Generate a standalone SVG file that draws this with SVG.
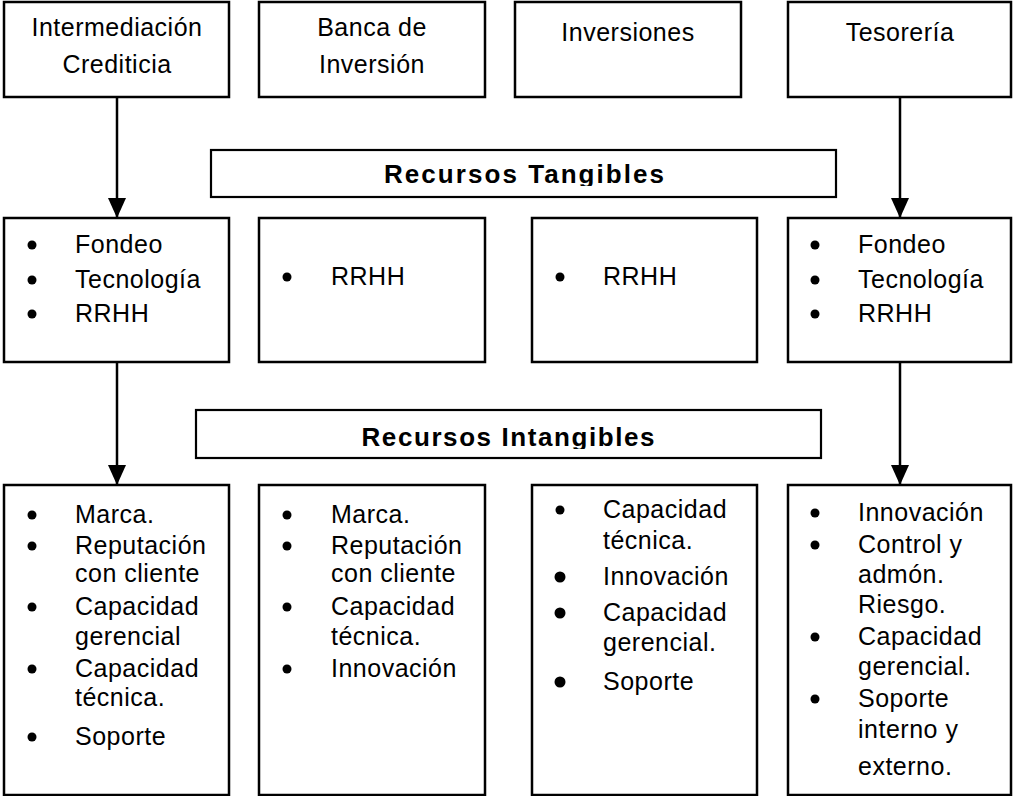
<svg xmlns="http://www.w3.org/2000/svg" width="1013" height="796" viewBox="0 0 1013 796">
  <style>
    .box { fill: #ffffff; stroke: #000000; stroke-width: 2.5; }
    .band { fill: #ffffff; stroke: #000000; stroke-width: 2.2; }
    .t { font-family: "Liberation Sans", Arial, sans-serif; font-size: 25px; letter-spacing: 0.5px; fill: #000000; }
    .c { text-anchor: middle; }
    .dot { fill: #000000; }
    .h { font-family: "Liberation Sans", Arial, sans-serif; font-size: 26px; font-weight: bold; fill: #000000; text-anchor: middle; }
    .wire { stroke: #000000; stroke-width: 2.5; fill: none; }
  </style>
  <defs>
    <marker id="head" viewBox="0 0 20 18" refX="20" refY="9" markerWidth="20" markerHeight="18" markerUnits="userSpaceOnUse" orient="auto">
      <path d="M0,0 L20,9 L0,18 Z" fill="#000000"/>
    </marker>
    <clipPath id="clipTang"><rect x="211" y="150" width="625" height="36"/></clipPath>
    <clipPath id="clipIntang"><rect x="196" y="410" width="625" height="39"/></clipPath>
  </defs>
  <rect width="1013" height="796" fill="#ffffff"/>

  <!-- business lines -->
  <g id="intermediacion">
    <rect class="box" x="4" y="2" width="225" height="95"/>
    <text class="t c" x="117" y="36">Intermediación</text>
    <text class="t c" x="117" y="73">Crediticia</text>
  </g>
  <g id="banca">
    <rect class="box" x="259" y="2" width="226" height="95"/>
    <text class="t c" x="372" y="36">Banca de</text>
    <text class="t c" x="372" y="73">Inversión</text>
  </g>
  <g id="inversiones">
    <rect class="box" x="515" y="2" width="226" height="95"/>
    <text class="t c" x="628" y="41">Inversiones</text>
  </g>
  <g id="tesoreria">
    <rect class="box" x="788" y="2" width="223" height="95"/>
    <text class="t c" x="900" y="41">Tesorería</text>
  </g>

  <!-- section bands -->
  <g id="tangibles">
    <rect class="band" x="211" y="150" width="625" height="47"/>
    <text class="h" x="524" y="183" textLength="280" lengthAdjust="spacing" clip-path="url(#clipTang)">Recursos Tangibles</text>
  </g>
  <g id="intangibles">
    <rect class="band" x="196" y="410" width="625" height="48"/>
    <text class="h" x="508" y="446" textLength="293" lengthAdjust="spacing" clip-path="url(#clipIntang)">Recursos Intangibles</text>
  </g>

  <!-- tangible resources -->
  <g id="tang-intermediacion">
    <rect class="box" x="4" y="218" width="225" height="144"/>
    <circle class="dot" cx="32" cy="245" r="4.5"/><text class="t" x="75" y="253">Fondeo</text>
    <circle class="dot" cx="32" cy="280" r="4.5"/><text class="t" x="75" y="288">Tecnología</text>
    <circle class="dot" cx="32" cy="314" r="4.5"/><text class="t" x="75" y="322">RRHH</text>
  </g>
  <g id="tang-banca">
    <rect class="box" x="259" y="218" width="226" height="144"/>
    <circle class="dot" cx="287" cy="277" r="4.5"/><text class="t" x="331" y="285">RRHH</text>
  </g>
  <g id="tang-inversiones">
    <rect class="box" x="532" y="218" width="225" height="144"/>
    <circle class="dot" cx="560" cy="277" r="4.5"/><text class="t" x="603" y="285">RRHH</text>
  </g>
  <g id="tang-tesoreria">
    <rect class="box" x="788" y="218" width="223" height="144"/>
    <circle class="dot" cx="815" cy="245" r="4.5"/><text class="t" x="858" y="253">Fondeo</text>
    <circle class="dot" cx="815" cy="280" r="4.5"/><text class="t" x="858" y="288">Tecnología</text>
    <circle class="dot" cx="815" cy="314" r="4.5"/><text class="t" x="858" y="322">RRHH</text>
  </g>

  <!-- intangible resources -->
  <g id="intang-intermediacion">
    <rect class="box" x="4" y="485" width="225" height="310"/>
    <circle class="dot" cx="32" cy="515" r="4.5"/><text class="t" x="75" y="523">Marca.</text>
    <circle class="dot" cx="32" cy="546" r="4.5"/><text class="t" x="75" y="554">Reputación</text>
    <text class="t" x="75" y="582">con cliente</text>
    <circle class="dot" cx="32" cy="607" r="4.5"/><text class="t" x="75" y="615">Capacidad</text>
    <text class="t" x="75" y="645">gerencial</text>
    <circle class="dot" cx="32" cy="669" r="4.5"/><text class="t" x="75" y="677">Capacidad</text>
    <text class="t" x="75" y="706">técnica.</text>
    <circle class="dot" cx="32" cy="737" r="4.5"/><text class="t" x="75" y="745">Soporte</text>
  </g>
  <g id="intang-banca">
    <rect class="box" x="259" y="485" width="226" height="310"/>
    <circle class="dot" cx="287" cy="515" r="4.5"/><text class="t" x="331" y="523">Marca.</text>
    <circle class="dot" cx="287" cy="546" r="4.5"/><text class="t" x="331" y="554">Reputación</text>
    <text class="t" x="331" y="582">con cliente</text>
    <circle class="dot" cx="287" cy="607" r="4.5"/><text class="t" x="331" y="615">Capacidad</text>
    <text class="t" x="331" y="645">técnica.</text>
    <circle class="dot" cx="287" cy="669" r="4.5"/><text class="t" x="331" y="677">Innovación</text>
  </g>
  <g id="intang-inversiones">
    <rect class="box" x="532" y="485" width="225" height="310"/>
    <circle class="dot" cx="560" cy="510" r="4.5"/><text class="t" x="603" y="518">Capacidad</text>
    <text class="t" x="603" y="549">técnica.</text>
    <circle class="dot" cx="560" cy="577" r="5.5"/><text class="t" x="603" y="585">Innovación</text>
    <circle class="dot" cx="560" cy="613" r="5.5"/><text class="t" x="603" y="621">Capacidad</text>
    <text class="t" x="603" y="651">gerencial.</text>
    <circle class="dot" cx="560" cy="682" r="5.5"/><text class="t" x="603" y="690">Soporte</text>
  </g>
  <g id="intang-tesoreria">
    <rect class="box" x="788" y="485" width="223" height="310"/>
    <circle class="dot" cx="815" cy="513" r="4.5"/><text class="t" x="858" y="521">Innovación</text>
    <circle class="dot" cx="815" cy="545" r="4.5"/><text class="t" x="858" y="553">Control y</text>
    <text class="t" x="858" y="583">admón.</text>
    <text class="t" x="858" y="613">Riesgo.</text>
    <circle class="dot" cx="815" cy="637" r="4.5"/><text class="t" x="858" y="645">Capacidad</text>
    <text class="t" x="858" y="675">gerencial.</text>
    <circle class="dot" cx="815" cy="699" r="4.5"/><text class="t" x="858" y="707">Soporte</text>
    <text class="t" x="858" y="738">interno y</text>
    <text class="t" x="858" y="775">externo.</text>
  </g>

  <!-- connectors -->
  <g id="connectors">
    <line class="wire" x1="117" y1="97" x2="117" y2="218" marker-end="url(#head)"/>
    <line class="wire" x1="900" y1="97" x2="900" y2="218" marker-end="url(#head)"/>
    <line class="wire" x1="117" y1="362" x2="117" y2="485" marker-end="url(#head)"/>
    <line class="wire" x1="900" y1="362" x2="900" y2="485" marker-end="url(#head)"/>
  </g>
</svg>
